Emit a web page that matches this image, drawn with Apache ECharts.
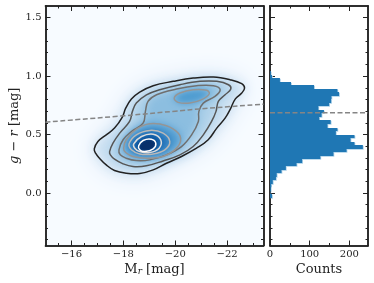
<!DOCTYPE html>
<html><head><meta charset="utf-8">
<style>html,body{margin:0;padding:0;background:#fff}#c{width:374px;height:283px}</style>
<script src="https://cdn.jsdelivr.net/npm/echarts@6/dist/echarts.min.js"></script>
</head><body><div id="c"></div>
<script>
// Contours, [M_r, g-r]
const contour1 = [[-16.88,.377],[-17.02,.44],[-17.34,.497],[-17.66,.555],[-17.96,.649],[-18.09,.726],[-18.31,.803],[-18.63,.863],[-19.15,.918],[-19.92,.955],[-20.69,.983],[-21.47,.992],[-22.11,.969],[-22.56,.935],[-22.67,.898],[-22.56,.855],[-22.31,.803],[-22.14,.726],[-21.92,.64],[-21.6,.555],[-21.27,.455],[-20.82,.383],[-20.24,.312],[-19.66,.254],[-19.15,.197],[-18.63,.166],[-18.11,.169],[-17.66,.192],[-17.34,.24],[-17.08,.297],[-16.93,.34]];
const contour2 = [[-17.47,.354],[-17.6,.426],[-17.86,.512],[-18.24,.612],[-18.35,.698],[-18.5,.769],[-18.89,.84],[-19.4,.883],[-20.18,.926],[-20.95,.955],[-21.6,.955],[-22.05,.926],[-22.14,.889],[-21.92,.84],[-21.66,.783],[-21.57,.698],[-21.4,.612],[-21.08,.497],[-20.69,.397],[-20.18,.326],[-19.53,.274],[-18.89,.232],[-18.37,.226],[-17.99,.249],[-17.66,.289],[-17.5,.326]];
const contour3 = [[-17.83,.369],[-17.99,.455],[-18.31,.526],[-18.76,.597],[-18.85,.698],[-18.95,.783],[-19.28,.84],[-20.05,.889],[-20.82,.918],[-21.47,.918],[-21.73,.883],[-21.53,.826],[-21.08,.769],[-20.91,.698],[-20.89,.612],[-20.63,.497],[-20.24,.397],[-19.66,.326],[-19.02,.283],[-18.5,.277],[-18.11,.297],[-17.88,.326]];
const contour4a = [[-18.01,.383],[-18.11,.455],[-18.5,.546],[-19.02,.592],[-19.66,.575],[-20.11,.512],[-20.2,.44],[-19.98,.369],[-19.53,.312],[-18.89,.297],[-18.37,.312],[-18.09,.346]];
const contour4b = [[-19.96,.812],[-20.18,.855],[-20.69,.883],[-21.21,.878],[-21.31,.849],[-21.02,.798],[-20.56,.769],[-20.11,.775]];
const contour5 = [[-18.22,.42],[-18.5,.497],[-19.02,.535],[-19.53,.512],[-19.79,.44],[-19.6,.369],[-19.15,.334],[-18.63,.334],[-18.31,.369]];
const contour6 = [[-18.4,.42],[-18.7,.483],[-19.15,.503],[-19.44,.455],[-19.38,.383],[-19.02,.346],[-18.63,.354],[-18.44,.383]];
const contour7 = [[-18.59,.403],[-18.76,.449],[-19.08,.46],[-19.25,.426],[-19.15,.377],[-18.82,.354],[-18.63,.369]];
const contours = [contour1,contour2,contour3,contour4a,contour4b,contour5,contour6,contour7];
const contourColors = ['#222222','#555555','#6f6f6f','#959595','#959595','#b8b8b8','#dcdcdc','#ffffff'];
// Density shading, drawn in order
const shadeShapes = [contour1,contour1,contour2,contour3,contour4b,contour4a,contour5,contour6,contour7];
const shadeColors = ['#d5e5f4','#c9dff1','#aed1e9','#8cbee0','#4d9bd0','#4f9bd0','#2a78bc','#115ca5','#08306b'];
const shadeBlurs = [26,12,11,10,7,8,6,4,3];
// Dashed line
const lineMag = [-15,-18,-20,-21,-23.4];
const lineColor = [.606,.66,.70,.72,.76];
const histLineY = .686;
// Histogram
const binTops = [1.04,1.01,.98,.95,.92,.89,.86,.83,.80,.77,.74,.71,.68,.65,.62,.59,.56,.53,.50,.47,.44,.41,.38,.35,.32,.29,.26,.23,.20,.17,.14,.11,.08,.05,.02,-.01];
const binCounts = [2,5,25,53,111,170,174,155,154,149,122,136,130,124,153,145,170,166,213,203,213,234,193,160,127,81,67,40,29,17,15,7,3,2,1,5];
const binHeight = .03;
// Ticks
const magTicks = [-22,-20,-18,-16];
const magMinorTicks = [-23,-22.5,-21.5,-21,-20.5,-19.5,-19,-18.5,-17.5,-17,-16.5,-15.5];
const colorTicks = [0,.5,1,1.5];
const colorMinorTicks = [-.4,-.3,-.2,-.1,.1,.2,.3,.4,.6,.7,.8,.9,1.1,1.2,1.3,1.4];
const countTicks = [0,100,200];
const countMinorTicks = [50,150];

const FONT = '"DejaVu Serif"', INK = '#222';
const fmt = (v,d)=> (v<0?'\u2212':'')+Math.abs(v).toFixed(d);
function axis(o,ticks,len,label){
  return Object.assign({
    type:'value', scale:true, nameMoveOverlap:false, axisLine:{show:true,onZero:false,lineStyle:{color:INK,width:1.5}},
    splitLine:{show:false}, minorSplitLine:{show:false},minorTick:{show:false},
    axisTick:{show:true,inside:true,length:len,customValues:ticks,lineStyle:{color:INK,width:1}},
    axisLabel:label?{show:true,color:INK,fontFamily:FONT,fontSize:10,margin:4,customValues:ticks,formatter:v=>fmt(v,label.d)}:{show:false}
  },o);
}
const nameStyle={fontFamily:FONT,fontSize:13,color:INK};
const xm={min:-23.4,max:-15,inverse:true};
const ym={min:-.45,max:1.6};
const xc={min:0,max:247};
const xName={name:'{a|M}{b|r}{a| [mag]}',nameLocation:'middle',nameGap:18,
      nameTextStyle:{...nameStyle,rich:{a:nameStyle,b:{...nameStyle,fontSize:9,fontStyle:'italic',verticalAlign:'bottom',padding:[4,0,0,0]}}}};
const yName={name:'{i|g} \u2212 {i|r} {a|[mag]}',nameLocation:'middle',nameGap:24,
      nameTextStyle:{...nameStyle,rich:{a:nameStyle,i:{...nameStyle,fontStyle:'italic'}}}};

function polyPts(api,pts){return pts.map(p=>api.coord(p));}
const shade={type:'custom',xAxisIndex:0,yAxisIndex:0,coordinateSystem:'cartesian2d',silent:true,clip:false,z:2,
  data:shadeShapes.map((s,i)=>[s[0][0],s[0][1],i]),
  renderItem(p,api){
    const i=api.value(2), OFF=1500;
    return {type:'polygon',
      shape:{points:polyPts(api,shadeShapes[i]).map(q=>[q[0]-OFF,q[1]]),smooth:.4},
      style:{fill:shadeColors[i],shadowColor:shadeColors[i],shadowBlur:shadeBlurs[i],shadowOffsetX:OFF}};
  }};
const cont={type:'custom',xAxisIndex:0,yAxisIndex:0,coordinateSystem:'cartesian2d',silent:true,clip:true,z:3,
  data:contours.map((s,i)=>[s[0][0],s[0][1],i]),
  renderItem(p,api){
    const i=api.value(2);
    return {type:'polygon',shape:{points:polyPts(api,contours[i]),smooth:.4},
      style:{fill:'none',stroke:contourColors[i],lineWidth:1.5}};
  }};
const dash={type:'line',xAxisIndex:0,yAxisIndex:0,showSymbol:false,silent:true,z:4,smooth:true,
  data:lineMag.map((m,i)=>[m,lineColor[i]]),lineStyle:{color:'#858585',width:1.5,type:[5,2.5]}};
const hist={type:'custom',xAxisIndex:4,yAxisIndex:4,coordinateSystem:'cartesian2d',silent:true,z:2,
  data:binCounts.map((c,i)=>[c,binTops[i]]),
  renderItem(p,api){
    const a=api.coord([0,api.value(1)]),b=api.coord([api.value(0),api.value(1)-binHeight]);
    const y0=Math.round(a[1]),y1=Math.round(b[1]);
    return {type:'rect',shape:{x:a[0],y:y0,width:b[0]-a[0],height:y1-y0},
      style:{fill:'#1f77b4',shadowColor:'#a9cfe7',shadowBlur:0,shadowOffsetX:.8,shadowOffsetY:.8}};
  }};
const dash2={type:'line',xAxisIndex:4,yAxisIndex:4,showSymbol:false,silent:true,z:4,
  data:[[0,histLineY],[247,histLineY]],lineStyle:{color:'#858585',width:1.5,type:[5,2.5]}};

const chart=echarts.init(document.getElementById('c'),null,{renderer:'canvas'});
chart.setOption({
  animation:false,backgroundColor:'#fff',
  grid:[
    {left:45.5,top:6,width:218,height:239.5,show:true,backgroundColor:'#f7fbff',borderWidth:0,outerBoundsMode:'none'},
    {left:270,top:6,width:98,height:239.5,show:false,outerBoundsMode:'none'}
  ],
  xAxis:[
    axis({...xm,gridIndex:0,position:'bottom',...xName},magTicks,5,{d:0}),
    axis({...xm,gridIndex:0,position:'bottom'},magMinorTicks,2.5),
    axis({...xm,gridIndex:0,position:'top'},magTicks,5),
    axis({...xm,gridIndex:0,position:'top'},magMinorTicks,2.5),
    axis({...xc,gridIndex:1,position:'bottom',name:'Counts',nameLocation:'middle',nameGap:18,nameTextStyle:nameStyle},countTicks,5,{d:0}),
    axis({...xc,gridIndex:1,position:'bottom'},countMinorTicks,2.5),
    axis({...xc,gridIndex:1,position:'top'},countTicks,5),
    axis({...xc,gridIndex:1,position:'top'},countMinorTicks,2.5)
  ],
  yAxis:[
    axis({...ym,gridIndex:0,position:'left',...yName},colorTicks,5,{d:1}),
    axis({...ym,gridIndex:0,position:'left'},colorMinorTicks,2.5),
    axis({...ym,gridIndex:0,position:'right'},colorTicks,5),
    axis({...ym,gridIndex:0,position:'right'},colorMinorTicks,2.5),
    axis({...ym,gridIndex:1,position:'left'},colorTicks,5),
    axis({...ym,gridIndex:1,position:'left'},colorMinorTicks,2.5),
    axis({...ym,gridIndex:1,position:'right'},colorTicks,5),
    axis({...ym,gridIndex:1,position:'right'},colorMinorTicks,2.5)
  ],
  series:[shade,cont,dash,hist,dash2]
});
</script></body></html>
